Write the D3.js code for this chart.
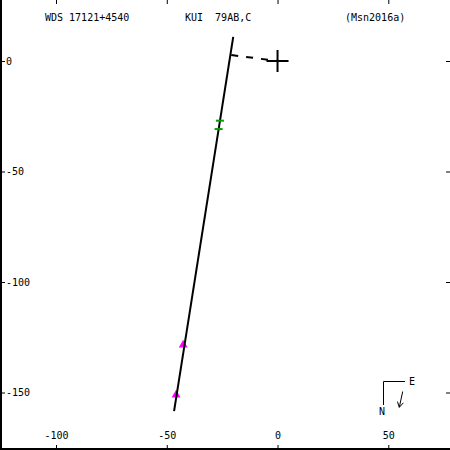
<!DOCTYPE html>
<html><head><meta charset="utf-8">
<script src="https://cdn.jsdelivr.net/npm/d3@7"></script>
<style>
body{margin:0;background:#fff;}
text{font-family:"DejaVu Sans Mono",monospace;font-size:10px;fill:#000;white-space:pre;}
</style></head>
<body><svg id="c" width="450" height="450"></svg>
<script>
const titleLeft = "WDS 17121+4540";
const titleMid = "KUI  79AB,C";
const titleRight = "(Msn2016a)";
const xTicks = [-100, -50, 0, 50];
const yTicks = [0, -50, -100, -150];
const orbitX = [-20.0, -46.7];
const orbitY = [10.9, -158.4];
const nodeX = [-20.9, 0];
const nodeY = [2.7, 0];
const greenX = [-26.0, -26.6];
const greenY = [-27.0, -30.8];
const magX = [-42.6, -45.8];
const magY = [-128.5, -151.1];

const svg = d3.select("#c");
const x = d3.scaleLinear().domain([-100, 50]).range([56, 388.3]);
const y = d3.scaleLinear().domain([0, -150]).range([61, 392.5]);

// frame
svg.append("path").attr("d","M1,0V449H450").attr("fill","none").attr("stroke","#000").attr("stroke-width",2);

// axes
const fmt = d => String(d);
const gB = svg.append("g").attr("transform","translate(0,449)")
  .call(d3.axisTop(x).tickValues(xTicks).tickSize(4).tickPadding(6).tickFormat(fmt));
const gT = svg.append("g").attr("transform","translate(0,0)")
  .call(d3.axisBottom(x).tickValues(xTicks).tickSize(4).tickFormat(""));
const gL = svg.append("g").attr("transform","translate(0,0)")
  .call(d3.axisRight(y).tickValues(yTicks).tickSize(5).tickPadding(1).tickFormat(fmt));
const gR = svg.append("g").attr("transform","translate(450,0)")
  .call(d3.axisLeft(y).tickValues(yTicks).tickSize(4).tickFormat(""));
[gB,gT,gL,gR].forEach(g=>{
  g.select(".domain").remove();
  g.selectAll("text").attr("font-family","DejaVu Sans Mono").attr("font-size",10.5).attr("fill","#000");
  g.selectAll("line").attr("stroke","#000");
});

// titles
svg.append("text").attr("x",45).attr("y",21).attr("xml:space","preserve").text(titleLeft);
svg.append("text").attr("x",185).attr("y",21).attr("xml:space","preserve").text(titleMid);
svg.append("text").attr("x",345).attr("y",21).attr("xml:space","preserve").text(titleRight);

const line = d3.line().x(d=>x(d[0])).y(d=>y(d[1]));

// node line dashed
svg.append("path").attr("d", line(d3.zip(nodeX, nodeY)))
  .attr("fill","none").attr("stroke","#000").attr("stroke-width",2).attr("stroke-dasharray","7,8");

// primary cross
const cx = x(0), cy = y(0);
svg.append("path").attr("d",`M${cx-11},${cy}H${cx+11}M${cx},${cy-11}V${cy+11}`)
  .attr("stroke","#000").attr("stroke-width",2);

// magenta triangles
const tri = d3.symbol().type(d3.symbolTriangle).size(34);
svg.selectAll(".m").data(d3.zip(magX, magY)).join("path")
  .attr("d", tri).attr("transform", d=>`translate(${x(d[0])},${y(d[1])})`)
  .attr("fill","#ff00ff");

// orbit line
svg.append("path").attr("d", line(d3.zip(orbitX, orbitY)))
  .attr("fill","none").attr("stroke","#000").attr("stroke-width",2);

// green measures
svg.selectAll(".g").data(d3.zip(greenX, greenY)).join("path")
  .attr("d", d=>`M${x(d[0])-4},${y(d[1])}H${x(d[0])+4}`)
  .attr("stroke","#00a000").attr("stroke-width",2);

// compass
svg.append("path").attr("d","M383.5,381.5H405M383.5,381.5V405").attr("fill","none").attr("stroke","#000").attr("stroke-width",1);
svg.append("text").attr("x",409).attr("y",385).text("E").attr("font-size",11);
svg.append("text").attr("x",379).attr("y",415).text("N").attr("font-size",11);
// arrow
const ax1=402.7, ay1=391.5, ax2=399.3, ay2=407.3;
const ang=Math.atan2(ay2-ay1, ax2-ax1);
const hl=6, ha=Math.PI/6;
svg.append("path").attr("d",`M${ax1},${ay1}L${ax2},${ay2}M${ax2},${ay2}L${ax2-hl*Math.cos(ang-ha)},${ay2-hl*Math.sin(ang-ha)}M${ax2},${ay2}L${ax2-hl*Math.cos(ang+ha)},${ay2-hl*Math.sin(ang+ha)}`)
  .attr("fill","none").attr("stroke","#000").attr("stroke-width",1);
</script></body></html>
